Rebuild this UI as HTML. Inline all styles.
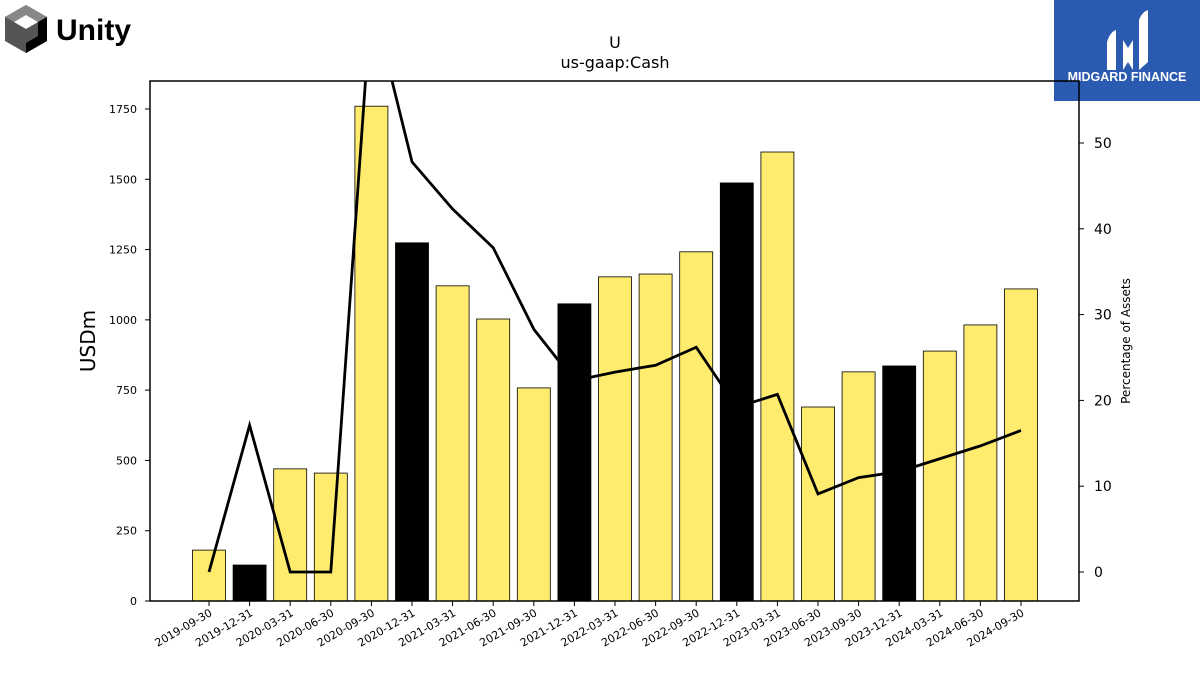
<!DOCTYPE html>
<html><head><meta charset="utf-8"><style>
body{margin:0;background:#fff;font-family:"Liberation Sans","DejaVu Sans",sans-serif}
#wrap{position:relative;width:1200px;height:675px;overflow:hidden}
</style></head><body>
<div id="wrap">
<svg id="chart" width="1200" height="675" font-family="DejaVu Sans, Liberation Sans, sans-serif">
<g>
<polygon points="26,5 47,17 47,41 26,53 5,41 5,17" fill="#555"/>
<polygon points="26,5 47,17 38,22 26,15 14,22 5,17" fill="#888"/>
<polygon points="26,53 47,41 47,17 38,22 38,36 26,43" fill="#000"/>
<polygon points="14,22 26,15 38,22 26,29" fill="#fff"/>
<text x="56" y="40" font-family="Liberation Sans, sans-serif" font-weight="bold" font-size="30" fill="#000">Unity</text>
</g>
<g>
<rect x="1054" y="0" width="146" height="101" fill="#2b5bb0"/>
<path d="M1107,70 L1107,42 Q1110,32 1116,30 L1116,70 Z" fill="#fff"/>
<path d="M1123,70 L1123,40 L1128,48 L1133,40 L1133,70 L1128,62 Z" fill="#fff"/>
<path d="M1139,70 L1139,20 Q1142,12 1148,10 L1148,62 Z" fill="#fff"/>
<text x="1127" y="81" text-anchor="middle" font-family="Liberation Sans, sans-serif" font-weight="bold" font-size="12.5" fill="#fff">MIDGARD FINANCE</text>
</g>
<text x="615" y="48" text-anchor="middle" font-size="16">U</text>
<text x="615" y="68" text-anchor="middle" font-size="16">us-gaap:Cash</text>
<g id="bars"></g><g id="line"></g><g id="axes"></g>
<text transform="translate(95,341) rotate(-90)" text-anchor="middle" font-size="20">USDm</text>
<text transform="translate(1130,341) rotate(-90)" text-anchor="middle" font-size="12">Percentage of Assets</text>
</svg></div>
<script>
const categories=["2019-09-30","2019-12-31","2020-03-31","2020-06-30","2020-09-30","2020-12-31","2021-03-31","2021-06-30","2021-09-30","2021-12-31","2022-03-31","2022-06-30","2022-09-30","2022-12-31","2023-03-31","2023-06-30","2023-09-30","2023-12-31","2024-03-31","2024-06-30","2024-09-30"];
const cashValues=[181,128,470,455,1760,1274,1121,1003,758,1057,1153,1163,1242,1487,1597,690,815,836,889,982,1110];
const pctValues=[0,17.1,0,0,67,47.8,42.3,37.8,28.3,22.3,23.3,24.1,26.2,19.2,20.7,9.1,11.0,11.7,13.2,14.7,16.5];
const leftTicks=[0,250,500,750,1000,1250,1500,1750];
const rightTicks=[0,10,20,30,40,50];
const NS="http://www.w3.org/2000/svg";
const L=150,R=1079,T=81,B=601;
const x=i=>209+i*(1021-209)/(categories.length-1);
const yL=v=>601-v*(601-109)/1750;
const yR=v=>572-v*(572-143)/50;
function mk(tag,attrs,parent){const e=document.createElementNS(NS,tag);for(const k in attrs)e.setAttribute(k,attrs[k]);parent.appendChild(e);return e;}
const bars=document.getElementById('bars'),line=document.getElementById('line'),axes=document.getElementById('axes');
const defs=mk('defs',{},document.getElementById('chart'));
const cp=mk('clipPath',{id:'plotclip'},defs);mk('rect',{x:L,y:T,width:R-L,height:B-T},cp);
cashValues.forEach((v,i)=>{
 const q=categories[i].endsWith('12-31');
 const r=mk('rect',{x:x(i)-16.5,y:yL(v),width:33,height:B-yL(v),fill:q?'#000':'#ffec6e',stroke:'#000','stroke-width':0.8},bars);
 
 
});
const pl=mk('polyline',{points:pctValues.map((v,i)=>x(i)+','+yR(v)).join(' '),fill:'none',stroke:'#000','stroke-width':2.8,'clip-path':'url(#plotclip)'},line);


const fr=mk('rect',{x:L,y:T,width:R-L,height:B-T,fill:'none',stroke:'#000','stroke-width':1.5},axes);


leftTicks.forEach(t=>{
 mk('line',{x1:L-5,x2:L,y1:yL(t),y2:yL(t),stroke:'#000'},axes);
 const tx=mk('text',{x:L-13,y:yL(t)+4,'text-anchor':'end','font-size':11},axes);tx.textContent=t;
 
 
});
rightTicks.forEach(t=>{
 mk('line',{x1:R,x2:R+5,y1:yR(t),y2:yR(t),stroke:'#000'},axes);
 const tx=mk('text',{x:R+15,y:yR(t)+5,'font-size':14},axes);tx.textContent=t;
 
 
});
categories.forEach((c,i)=>{
 mk('line',{x1:x(i),x2:x(i),y1:B,y2:B+5,stroke:'#000'},axes);
 const tx=mk('text',{x:x(i)+4,y:B+14,'text-anchor':'end','font-size':11,transform:`rotate(-30 ${x(i)+4} ${B+14})`},axes);tx.textContent=c;
 
 
});
</script>
</body></html>
